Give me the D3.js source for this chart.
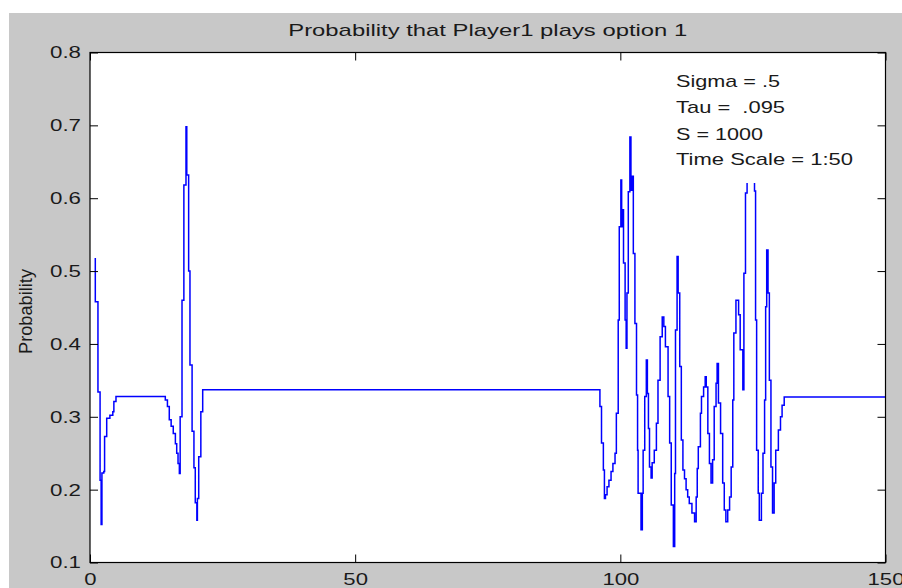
<!DOCTYPE html>
<html>
<head>
<meta charset="utf-8">
<script src="https://cdn.jsdelivr.net/npm/d3@7"></script>
<style>
  html, body { margin: 0; padding: 0; background: #ffffff; }
  svg { display: block; }
  text { font-family: "Liberation Sans", Arial, Helvetica, sans-serif; fill: #1a1a1a; white-space: pre; }
</style>
</head>
<body>
<svg id="chart" width="902" height="588"></svg>
<script>
// ---- data ----
const chartTitle = "Probability that Player1 plays option 1";
const yAxisLabel = "Probability";
const notes = ["Sigma = .5", "Tau =  .095", "S = 1000", "Time Scale = 1:50"];
const xTicks = [0, 50, 100, 150];
const yTicks = [0.1, 0.2, 0.3, 0.4, 0.5, 0.6, 0.7, 0.8];

const timeSteps = [
  1.0, 1.0, 1.5, 1.5, 1.9, 1.9, 2.1, 2.1, 2.25, 2.6, 2.75, 3.15, 3.75, 4.3, 4.5, 4.9,
  13.95, 14.2, 14.6, 14.95, 15.3, 15.7, 16.1, 16.35, 16.6, 16.85, 17.0, 17.35, 17.7, 18.1,
  18.25, 18.6, 18.85, 19.25, 19.6, 19.85, 20.15, 20.25, 20.5, 20.9, 21.25,
  96.15, 96.15, 96.45, 96.8, 97.0, 97.2, 97.5, 97.85, 98.25, 98.6, 99.0, 99.25, 99.6, 99.8,
  100.1, 100.25, 100.4, 100.6, 100.9, 101.1, 101.25, 101.5, 101.8, 102.0, 102.25, 102.45,
  102.75, 103.05, 103.25, 103.35, 103.9, 104.15, 104.3, 104.6, 104.9, 105.1, 105.3, 105.5,
  105.8, 106.0, 106.4, 106.8, 107.1, 107.5, 107.9, 108.2, 108.5, 109.0, 109.3, 109.6,
  110.0, 110.25, 110.4, 110.7, 110.9, 111.2, 111.5, 111.8, 112.1, 112.4, 112.7, 113.0,
  113.5, 114.0, 114.3, 114.5, 114.7, 115.1, 115.3, 115.7, 116.0, 116.2, 116.5, 116.8,
  117.1, 117.4, 117.7, 118.05, 118.25, 118.5, 118.9, 119.3, 119.6, 119.9, 120.25, 120.6,
  120.9, 121.2, 121.4, 121.8, 122.0, 122.3, 122.6, 123.1, 123.3, 123.6, 123.9, 124.4,
  124.9, 125.3, 125.5, 125.7, 126.0, 126.2, 126.6, 126.9, 127.2, 127.4, 127.6, 127.85,
  128.1, 128.4, 128.7, 129.0, 129.3, 129.8, 130.2, 130.5, 130.9, 150.0
];
const probability = [
  0.518, 0.458, 0.458, 0.334, 0.334, 0.213, 0.189, 0.152, 0.223, 0.225, 0.273, 0.298, 0.302, 0.307, 0.321, 0.328,
  0.328, 0.323, 0.314, 0.296, 0.287, 0.277, 0.263, 0.250, 0.236, 0.222, 0.300, 0.460, 0.618, 0.698,
  0.632, 0.500, 0.371, 0.280, 0.230, 0.182, 0.158, 0.188, 0.245, 0.307, 0.337,
  0.337, 0.314, 0.264, 0.227, 0.188, 0.193, 0.204, 0.213, 0.225, 0.236, 0.250, 0.305, 0.433, 0.561,
  0.625, 0.561, 0.584, 0.511, 0.433, 0.394, 0.470, 0.609, 0.684, 0.611, 0.630, 0.524,
  0.428, 0.330, 0.254, 0.195, 0.145, 0.195, 0.254, 0.328, 0.378, 0.332, 0.284, 0.231,
  0.216, 0.237, 0.254, 0.291, 0.350, 0.410, 0.437, 0.424, 0.396, 0.328, 0.264, 0.179,
  0.122, 0.222, 0.419, 0.520, 0.470, 0.369, 0.268, 0.227, 0.215, 0.200, 0.190, 0.181,
  0.168, 0.156, 0.190, 0.229, 0.259, 0.305, 0.328, 0.341, 0.355, 0.341, 0.277, 0.236,
  0.209, 0.241, 0.314, 0.346, 0.373, 0.319, 0.277, 0.209, 0.172, 0.156, 0.172, 0.190,
  0.231, 0.323, 0.415, 0.460, 0.460, 0.440, 0.392, 0.337, 0.497, 0.607, 0.680, 0.660,
  0.640, 0.610, 0.433, 0.254, 0.195, 0.158, 0.195, 0.250, 0.323, 0.451, 0.529, 0.470,
  0.350, 0.231, 0.168, 0.209, 0.254, 0.282, 0.300, 0.316, 0.327, 0.327
];

// ---- layout ----
const W = 902, H = 588;
const plot = { left: 90, right: 885.5, top: 52.5, bottom: 562.5 };

const svg = d3.select("#chart");
svg.append("rect").attr("x", 0).attr("y", 0).attr("width", W).attr("height", H).attr("fill", "#ffffff");
svg.append("rect").attr("x", 9).attr("y", 13).attr("width", W - 9).attr("height", H - 13).attr("fill", "#c8c8c8");

const x = d3.scaleLinear().domain([0, 150]).range([plot.left, plot.right]);
const y = d3.scaleLinear().domain([0.1, 0.8]).range([plot.bottom, plot.top]);

svg.append("rect")
  .attr("x", plot.left).attr("y", plot.top)
  .attr("width", plot.right - plot.left).attr("height", plot.bottom - plot.top)
  .attr("fill", "#ffffff");

const clip = svg.append("clipPath").attr("id", "plotclip").append("rect")
  .attr("x", plot.left).attr("y", plot.top)
  .attr("width", plot.right - plot.left).attr("height", plot.bottom - plot.top);

const points = timeSteps.map((t, i) => [t, probability[i]]);
const line = d3.line().x(d => x(d[0])).y(d => y(d[1])).curve(d3.curveStepAfter);

svg.append("path")
  .datum(points)
  .attr("clip-path", "url(#plotclip)")
  .attr("d", line)
  .attr("fill", "none")
  .attr("stroke", "#0000ff")
  .attr("stroke-width", 1.5)
  .attr("stroke-linejoin", "miter");

// annotation box (white background of the text block, covers the line)
svg.append("rect")
  .attr("x", 668).attr("y", 60).attr("width", 195).attr("height", 123)
  .attr("fill", "#ffffff");

const noteG = svg.append("g").attr("font-size", 17);
const noteWidths = [104, 109, 87, 177];
const noteBase = [87, 113, 139.5, 165];
notes.forEach((n, i) => {
  noteG.append("text")
    .attr("x", 676).attr("y", noteBase[i])
    .attr("textLength", noteWidths[i]).attr("lengthAdjust", "spacingAndGlyphs")
    .text(n);
});

// axes
function styleAxis(g) {
  g.select(".domain").remove();
  g.selectAll(".tick line").attr("stroke", "#000").attr("stroke-width", 1);
  g.selectAll(".tick text").attr("font-size", 17).attr("fill", "#1a1a1a")
    .attr("font-family", "Liberation Sans, Arial, sans-serif");
}

const gLeft = svg.append("g").attr("transform", `translate(${plot.left},0)`)
  .call(d3.axisLeft(y).tickValues(yTicks).tickFormat(d3.format(".1f")).tickSize(-8).tickPadding(9))
  .call(styleAxis);
gLeft.selectAll(".tick text").attr("textLength", 31).attr("lengthAdjust", "spacingAndGlyphs");

svg.append("g").attr("transform", `translate(${plot.right},0)`)
  .call(d3.axisRight(y).tickValues(yTicks).tickFormat("").tickSize(-8))
  .call(styleAxis);

const gBottom = svg.append("g").attr("transform", `translate(0,${plot.bottom})`)
  .call(d3.axisBottom(x).tickValues(xTicks).tickFormat(d3.format("d")).tickSize(-8).tickPadding(10))
  .call(styleAxis);
gBottom.selectAll(".tick text")
  .attr("textLength", d => String(d).length * 12.3).attr("lengthAdjust", "spacingAndGlyphs");

svg.append("g").attr("transform", `translate(0,${plot.top})`)
  .call(d3.axisTop(x).tickValues(xTicks).tickFormat("").tickSize(-8))
  .call(styleAxis);

// frame
svg.append("rect")
  .attr("x", plot.left).attr("y", plot.top)
  .attr("width", plot.right - plot.left).attr("height", plot.bottom - plot.top)
  .attr("fill", "none").attr("stroke", "#000").attr("stroke-width", 1.2);

// title
svg.append("text")
  .attr("x", (plot.left + plot.right) / 2).attr("y", 36)
  .attr("text-anchor", "middle").attr("font-size", 17)
  .attr("textLength", 399).attr("lengthAdjust", "spacingAndGlyphs")
  .text(chartTitle);

// y label
svg.append("text")
  .attr("transform", "translate(32,311.5) rotate(-90)")
  .attr("text-anchor", "middle").attr("font-size", 19)
  .attr("textLength", 85).attr("lengthAdjust", "spacingAndGlyphs")
  .text(yAxisLabel);
</script>
</body>
</html>
